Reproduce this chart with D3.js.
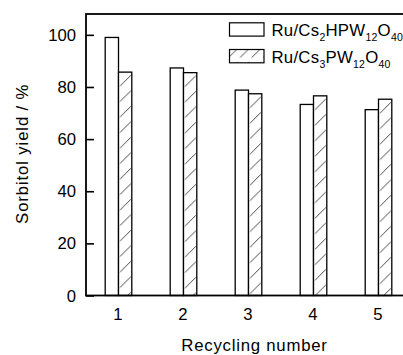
<!DOCTYPE html>
<html>
<head>
<meta charset="utf-8">
<script src="https://cdn.jsdelivr.net/npm/d3@7"></script>
<style>
  body { margin: 0; background: #fff; }
  svg { display: block; font-family: Arial, "Liberation Sans", sans-serif; }
</style>
</head>
<body>
<div id="chart"></div>
<script>
// data
const cycles = [1, 2, 3, 4, 5];
const cs2Yield = [99, 87.3, 78.8, 73.3, 71.3];   // Ru/Cs2HPW12O40 (open bars)
const cs3Yield = [85.7, 85.5, 77.4, 76.6, 75.3]; // Ru/Cs3PW12O40 (hatched bars)
const yTicks = [0, 20, 40, 60, 80, 100];

const width = 403, height = 355;
const plotLeft = 86, plotTop = 14, plotBottom = 295.5, plotRight = 411;
const barW = 13.3;
const hatchStep = 15.5;

const svg = d3.select("#chart").append("svg")
    .attr("width", width)
    .attr("height", height);

const x = d3.scaleLinear().domain([0.5, 5.5]).range([plotLeft, plotRight]);
const y = d3.scaleLinear().domain([0, 108]).range([plotBottom, plotTop]);

const defs = svg.append("defs");

// one hatch pattern per hatched bar so the stripes line up with the bar edges
const hatchData = cycles.map((c, i) => ({ id: "hatch" + i, x0: x(c), y0: y(cs3Yield[i]) }));
hatchData.push({ id: "hatchLegend", x0: 229.5, y0: 49.5, step: 13.3, w: 11.6 });

const pats = defs.selectAll("pattern").data(hatchData).enter().append("pattern")
    .attr("id", d => d.id)
    .attr("patternUnits", "userSpaceOnUse")
    .attr("x", d => d.x0)
    .attr("y", d => d.y0)
    .attr("width", d => d.w || barW)
    .attr("height", d => d.step || hatchStep);
pats.append("rect")
    .attr("width", d => d.w || barW)
    .attr("height", d => d.step || hatchStep)
    .attr("fill", "#fff");
pats.append("line")
    .attr("x1", 1.5)
    .attr("y1", d => (d.step || hatchStep) - 1.5)
    .attr("x2", d => (d.w || barW) - 1)
    .attr("y2", d => (d.step || hatchStep) - 1.5 - ((d.w || barW) - 2.5))
    .attr("stroke", "#333")
    .attr("stroke-width", 0.9);

// bars
const plot = svg.append("g");
plot.selectAll(".bar-a").data(cycles).enter().append("rect")
    .attr("class", "bar-a")
    .attr("x", d => x(d) - barW)
    .attr("y", (d, i) => y(cs2Yield[i]))
    .attr("width", barW)
    .attr("height", (d, i) => y(0) - y(cs2Yield[i]))
    .attr("fill", "#fff")
    .attr("stroke", "#000")
    .attr("stroke-width", 1.3);

plot.selectAll(".bar-b").data(cycles).enter().append("rect")
    .attr("class", "bar-b")
    .attr("x", d => x(d))
    .attr("y", (d, i) => y(cs3Yield[i]))
    .attr("width", barW)
    .attr("height", (d, i) => y(0) - y(cs3Yield[i]))
    .attr("fill", (d, i) => "url(#hatch" + i + ")")
    .attr("stroke", "#000")
    .attr("stroke-width", 1.3);

// frame (right edge falls outside the picture)
svg.append("rect")
    .attr("x", plotLeft)
    .attr("y", plotTop)
    .attr("width", plotRight - plotLeft)
    .attr("height", plotBottom - plotTop)
    .attr("fill", "none")
    .attr("stroke", "#000")
    .attr("stroke-width", 1.8);

// y axis, ticks pointing inward
const yAxis = svg.append("g")
    .attr("transform", `translate(${plotLeft},0)`)
    .call(d3.axisRight(y).tickValues(yTicks).tickSize(8).tickFormat(""));
yAxis.select(".domain").remove();
yAxis.selectAll("line").attr("stroke-width", 1.6);

svg.append("g").selectAll("text").data(yTicks).enter().append("text")
    .attr("x", 76)
    .attr("y", d => y(d) + 6)
    .attr("text-anchor", "end")
    .attr("font-size", 16.7)
    .text(d => d);

// x tick labels
svg.append("g").selectAll("text").data(cycles).enter().append("text")
    .attr("x", d => x(d) - 0.5)
    .attr("y", 319.5)
    .attr("text-anchor", "middle")
    .attr("font-size", 16.7)
    .text(d => d);

// axis titles
svg.append("text")
    .attr("x", 254.5)
    .attr("y", 351)
    .attr("text-anchor", "middle")
    .attr("font-size", 16.8)
    .attr("letter-spacing", 0.75)
    .text("Recycling number");

svg.append("text")
    .attr("transform", `translate(27.5,${(plotTop + plotBottom) / 2 - 1}) rotate(-90)`)
    .attr("text-anchor", "middle")
    .attr("font-size", 16.8)
    .attr("letter-spacing", 0.85)
    .text("Sorbitol yield / %");

// legend
const legendItems = [
    { fill: "#fff", parts: [["Ru/Cs", 0], ["2", 1], ["HPW", 0], ["12", 1], ["O", 0], ["40", 1]] },
    { fill: "url(#hatchLegend)", parts: [["Ru/Cs", 0], ["3", 1], ["PW", 0], ["12", 1], ["O", 0], ["40", 1]] }
];
const lg = svg.append("g").selectAll("g").data(legendItems).enter().append("g")
    .attr("transform", (d, i) => `translate(229.5,${22.8 + i * 26.7})`);
lg.append("rect")
    .attr("width", 34.5)
    .attr("height", 13.3)
    .attr("fill", d => d.fill)
    .attr("stroke", "#000")
    .attr("stroke-width", 1.2);
const lt = lg.append("text")
    .attr("x", 42)
    .attr("y", 13.3)
    .attr("font-size", 16.8)
    .attr("letter-spacing", 0.25);
lt.selectAll("tspan").data(d => d.parts).enter().append("tspan")
    .attr("font-size", p => p[1] ? 10.5 : 16.8)
    .attr("dy", (p, i, n) => {
        const prev = i > 0 ? n[i - 1].__data__[1] : 0;
        return (p[1] - prev) * 4.8;
    })
    .text(p => p[0]);
</script>
</body>
</html>
